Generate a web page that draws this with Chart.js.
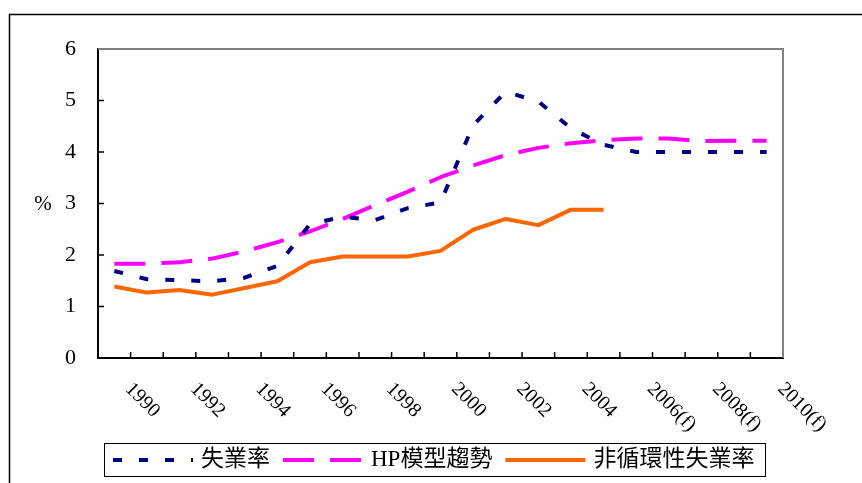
<!DOCTYPE html>
<html>
<head>
<meta charset="utf-8">
<script src="https://cdn.jsdelivr.net/npm/chart.js@4.4.1/dist/chart.umd.min.js"></script>
<style>
  html, body { margin: 0; padding: 0; background: #fff; }
  #wrap { width: 862px; height: 483px; position: relative; }
</style>
</head>
<body>
<div id="wrap"><canvas id="chart"></canvas></div>
<script>
const years = [
  "1990", "1991", "1992", "1993", "1994", "1995", "1996", "1997", "1998", "1999",
  "2000", "2001", "2002", "2003", "2004", "2005",
  "2006(f)", "2007(f)", "2008(f)", "2009(f)", "2010(f)",
];
const seriesNames = ["失業率", "HP模型趨勢", "非循環性失業率"];

const unemployment = [1.69, 1.53, 1.51, 1.49, 1.56, 1.79, 2.6, 2.74, 2.68, 2.91, 3.02, 4.52, 5.17, 4.98, 4.46, 4.14, 4.0, 4.0, 4.0, 4.0, 4.0];
const hpTrend = [1.83, 1.83, 1.86, 1.93, 2.07, 2.25, 2.46, 2.7, 2.97, 3.23, 3.51, 3.74, 3.94, 4.08, 4.17, 4.23, 4.26, 4.26, 4.21, 4.22, 4.22];
const nonCyclical = [1.39, 1.27, 1.32, 1.23, 1.36, 1.49, 1.86, 1.97, 1.97, 1.97, 2.08, 2.49, 2.7, 2.58, 2.88, 2.88];

const SERIF = '"Liberation Serif", "Times New Roman", "Noto Sans CJK TC", serif';

// frame, inside tick marks, slanted year labels, % title and the boxed legend
const decorPlugin = {
  id: "decor",
  afterDraw(chart) {
    const { ctx, chartArea: a, scales } = chart;
    const x = scales.x;
    const y = scales.y;
    ctx.save();

    // outer border (runs off the right and bottom edge)
    ctx.strokeStyle = "#000";
    ctx.lineWidth = 1.5;
    ctx.strokeRect(9.5, 14.5, 900, 500);

    // grey top/right of plot frame
    ctx.strokeStyle = "#808080";
    ctx.lineWidth = 2;
    ctx.beginPath();
    ctx.moveTo(a.left, a.top);
    ctx.lineTo(a.right, a.top);
    ctx.lineTo(a.right, a.bottom);
    ctx.stroke();

    // tick marks pointing inward
    ctx.strokeStyle = "#000";
    ctx.lineWidth = 1.5;
    ctx.beginPath();
    for (let v = 1; v <= 5; v++) {
      const py = y.getPixelForValue(v);
      ctx.moveTo(a.left, py);
      ctx.lineTo(a.left + 6, py);
    }
    for (let i = 0; i < years.length - 1; i++) {
      const px = (x.getPixelForValue(i) + x.getPixelForValue(i + 1)) / 2;
      ctx.moveTo(px, a.bottom);
      ctx.lineTo(px, a.bottom - 6);
    }
    ctx.stroke();

    // year labels, every other one, slanted down to the right
    ctx.fillStyle = "#000";
    ctx.font = "20px " + SERIF;
    ctx.textAlign = "left";
    ctx.textBaseline = "middle";
    years.forEach((label, i) => {
      if (i % 2) return;
      ctx.save();
      ctx.translate(x.getPixelForValue(i) + 14, a.bottom + 28);
      ctx.rotate(Math.PI / 4);
      ctx.fillText(label, 0, 0);
      ctx.restore();
    });

    ctx.textAlign = "center";
    ctx.font = "21px " + SERIF;
    ctx.fillText("%", 43, y.getPixelForValue(3) + 1);

    // legend
    ctx.strokeStyle = "#000";
    ctx.lineWidth = 1;
    ctx.strokeRect(104.5, 443.5, 661, 33);
    ctx.font = "23px " + SERIF;
    ctx.textAlign = "left";
    let cx = 113;
    const ly = 460;
    chart.data.datasets.forEach((ds) => {
      ctx.save();
      ctx.strokeStyle = ds.borderColor;
      ctx.lineWidth = ds.borderWidth;
      ctx.setLineDash(ds.borderDash || []);
      ctx.beginPath();
      ctx.moveTo(cx, ly);
      ctx.lineTo(cx + 80, ly);
      ctx.stroke();
      ctx.restore();
      cx += 88;
      ctx.fillStyle = "#000";
      ctx.fillText(ds.label, cx, ly);
      cx += ctx.measureText(ds.label).width + 13;
    });

    ctx.restore();
  },
};

new Chart(document.getElementById("chart"), {
  type: "line",
  data: {
    labels: years,
    datasets: [
      {
        label: seriesNames[0],
        data: unemployment,
        borderColor: "#000080",
        borderWidth: 4,
        borderDash: [9, 17],
      },
      {
        label: seriesNames[1],
        data: hpTrend,
        borderColor: "#ff00ff",
        borderWidth: 4,
        borderDash: [31, 16],
      },
      {
        label: seriesNames[2],
        data: nonCyclical,
        borderColor: "#ff6600",
        borderWidth: 4,
      },
    ],
  },
  options: {
    responsive: true,
    maintainAspectRatio: false,
    animation: false,
    layout: { padding: { left: 38, top: 49, right: 79, bottom: 104 } },
    elements: {
      point: { radius: 0, hoverRadius: 0 },
      line: { tension: 0, borderCapStyle: "butt", borderJoinStyle: "round", fill: false },
    },
    plugins: {
      legend: { display: false },
      tooltip: { enabled: false },
    },
    scales: {
      x: {
        type: "category",
        offset: true,
        grid: { display: false, drawTicks: false },
        border: { color: "#000", width: 2 },
        ticks: { display: false },
        afterFit: (scale) => {
          scale.height = 21;
        },
      },
      y: {
        min: 0,
        max: 6,
        grid: { display: false, drawTicks: false },
        border: { color: "#000", width: 2 },
        ticks: {
          stepSize: 1,
          padding: 22,
          color: "#000",
          font: { family: SERIF, size: 22 },
        },
        afterFit: (scale) => {
          scale.width = 60;
        },
      },
    },
  },
  plugins: [decorPlugin],
});
</script>
</body>
</html>
